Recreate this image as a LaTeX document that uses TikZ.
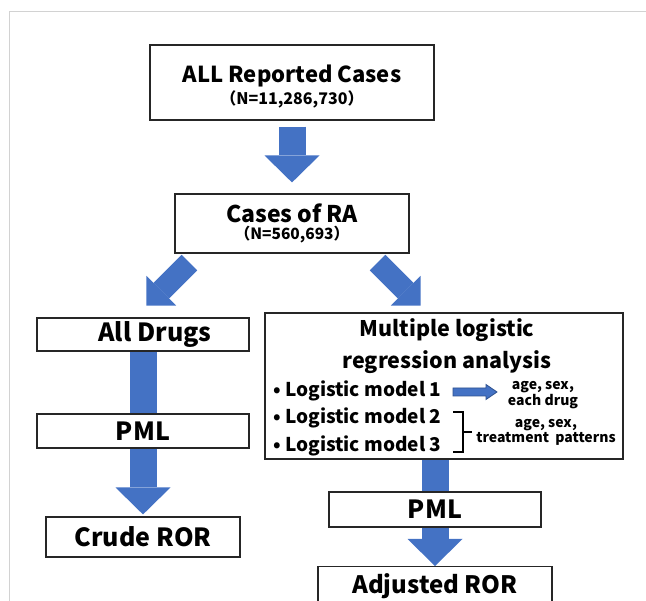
\documentclass[tikz,border=0pt]{standalone}
\usepackage{fontspec}
\setmainfont{Noto Sans CJK JP}
\usetikzlibrary{arrows.meta,
                backgrounds,
                positioning}
\definecolor{flowblue}{HTML}{4472C4}
\definecolor{flowdark}{HTML}{2F528F}

\begin{document}
\begin{tikzpicture}[
x = 1pt, y = -1pt,
     B/.style = {draw=black!85, line width=1.1pt, fill=white, inner sep=0pt, align=center},
     A/.style = {draw=flowblue, line width=27pt,
                 -{Triangle[width=55pt, length=27pt, line width=0pt]}},
     D/.style = {draw=flowblue, line width=22pt,
                 -{Triangle[width=42pt, length=21pt, line width=0pt]}},
    HH/.style = {font=\bfseries\fontsize{25}{28}\selectfont},
    LL/.style = {font=\bfseries\fontsize{19}{22}\selectfont, inner sep=0pt},
    SS/.style = {font=\bfseries\fontsize{14}{16}\selectfont, align=center, inner sep=0pt}
                    ]
\useasboundingbox (0,0) rectangle (646,601);
% boxes
\node (all) [B, minimum width=284pt, minimum height=75pt] at (292,82.5)
      {{\bfseries\fontsize{22}{26}\selectfont\rule{0pt}{26pt}ALL Reported Cases}\\[3pt]
       {\bfseries\fontsize{16}{18}\selectfont （N=11,286,730）}};
\node (ra) [B, minimum width=234pt, minimum height=59pt] at (292,223.5)
      {{\bfseries\fontsize{23}{26}\selectfont Cases of RA}\\[2pt]
       {\bfseries\fontsize{15.5}{18}\selectfont （N=560,693）}};
\node (drugs) [B, HH, minimum width=212pt, minimum height=33pt] at (143,334.5)
      {\hspace*{24pt}All Drugs};
\node (pml1)  [B, HH, minimum width=212pt, minimum height=34pt] at (143,431) {PML};
\node (crude) [B, HH, minimum width=194pt, minimum height=40pt] at (143,537) {Crude ROR};
\node (mlr)   [B, minimum width=358pt, minimum height=146pt] at (444,386) {};
\node (pml2)  [B, HH, minimum width=212pt, minimum height=35pt] at (435,509.5) {PML};
\node (adj)   [B, HH, font=\bfseries\fontsize{24}{28}\selectfont,
               minimum width=234pt, minimum height=40pt, anchor=north] at (435,566)
      {Adjusted ROR};
% inside the regression box
\node (mt) [align=center, font=\bfseries\fontsize{21.5}{32}\selectfont] at (447,346)
      {Multiple logistic\\regression analysis};
\node (m1) [LL, anchor=west] at (273,391) {• Logistic model 1};
\node (m2) [LL, anchor=west] at (273,418) {• Logistic model 2};
\node (m3) [LL, anchor=west] at (273,446) {• Logistic model 3};
\node (v1) [SS] at (543,395) {age, sex,\\each drug};
\node (v2) [SS, font=\bfseries\fontsize{14}{15}\selectfont] at (546,432) {age, sex,\\treatment\ \ patterns};
\coordinate (s1) at (453,388);
\coordinate (br) at (453,412);
\filldraw[fill=flowblue, draw=flowdark, line width=0.8pt]
      (s1) -- ++(33,0) -- ++(0,-3.5) -- ++(11,7.5) -- ++(-11,7.5)
           -- ++(0,-3.5) -- ++(-33,0) -- cycle;
\draw[line width=1.1pt] (br) -- ++(10,0) -- ++(0,40) -- ++(-10,0)
                        (br) ++(10,20) -- ++(9,0);
% block arrows
\begin{scope}[on background layer]
\draw[gray!35, line width=1pt] (9,601) |- (646,12);
\draw[A, shorten <=6pt, shorten >=11pt] (all) -- (ra);
\draw[D] ([shift={(15,9)}]ra.south west) -- ++(-43,43);
\draw[D] ([shift={(-32,9)}]ra.south east) -- ++(43,43);
\draw[A, shorten >=2pt] (drugs) -- (crude);
\draw[A] (mlr.south -| adj.north) -- (adj.north);
\end{scope}
\end{tikzpicture}
\end{document}
